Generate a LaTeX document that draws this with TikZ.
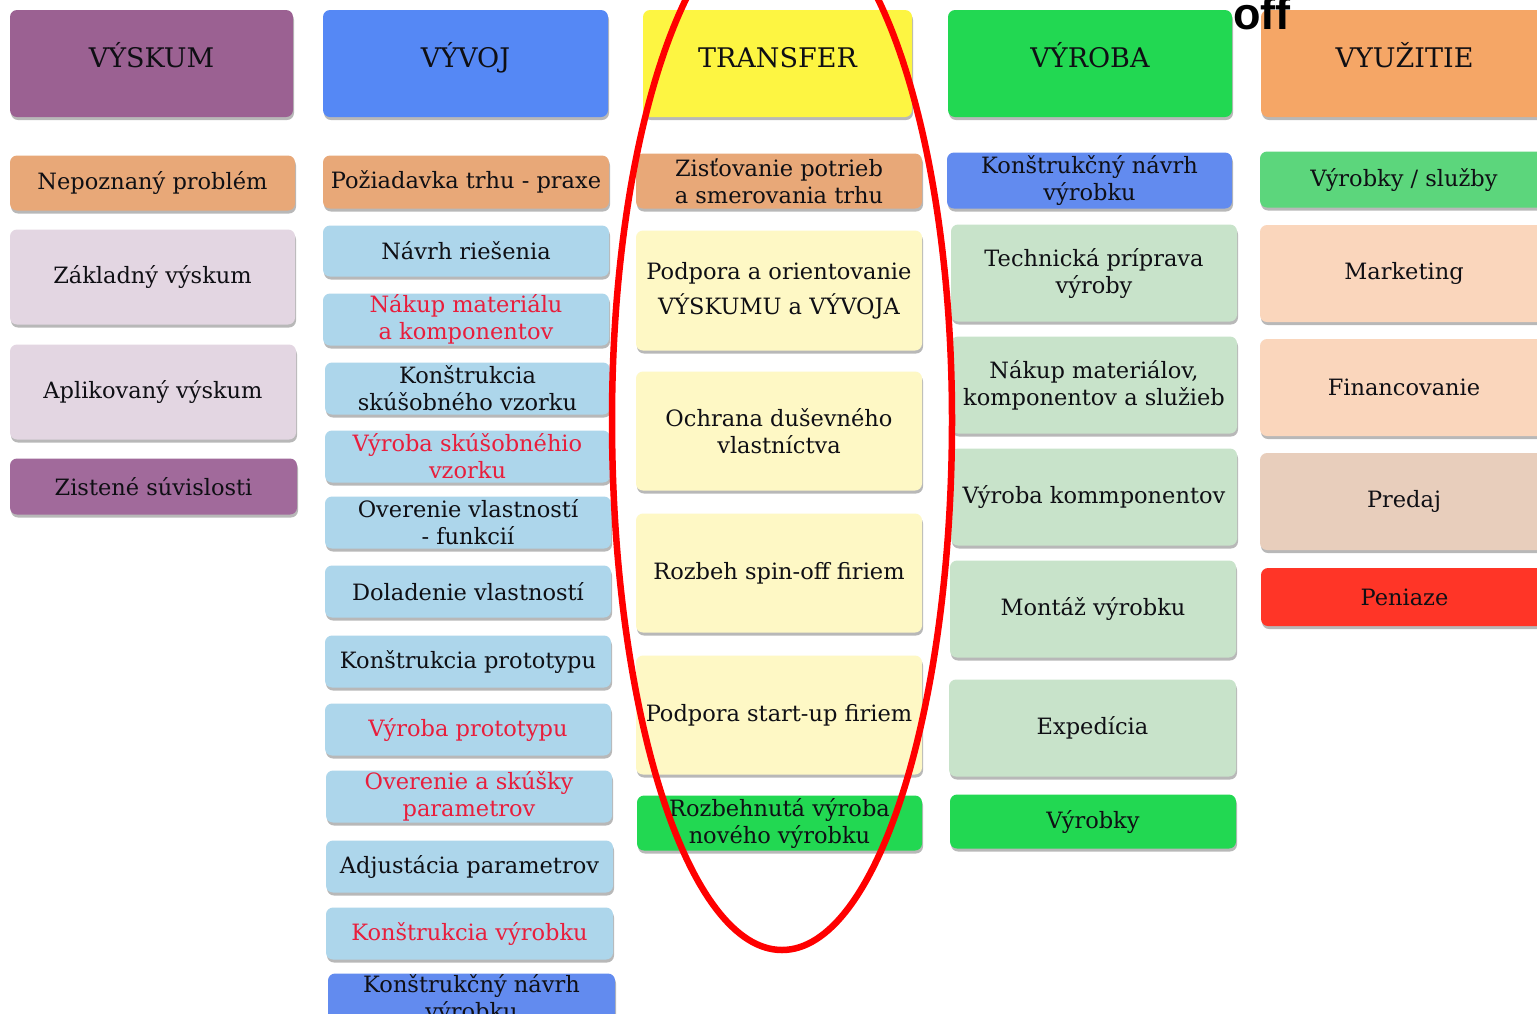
\documentclass[tikz,border=0pt]{standalone}
\usepackage{fontspec}
\setmainfont{DejaVu Serif}
\newfontfamily\offfont{Liberation Sans}
\usetikzlibrary{shadows}
\definecolor{cPurpleH}{RGB}{155,97,146}
\definecolor{cBlueH}{RGB}{85,136,245}
\definecolor{cYellowH}{RGB}{253,245,66}
\definecolor{cGreenH}{RGB}{34,216,82}
\definecolor{cOrangeH}{RGB}{245,166,102}
\definecolor{cOrange}{RGB}{232,168,120}
\definecolor{cLPurple}{RGB}{227,214,226}
\definecolor{cDPurple}{RGB}{161,106,155}
\definecolor{cLBlue}{RGB}{173,214,235}
\definecolor{cBlue}{RGB}{98,139,239}
\definecolor{cLYellow}{RGB}{254,248,197}
\definecolor{cLGreen}{RGB}{200,227,202}
\definecolor{cGreen2}{RGB}{92,214,124}
\definecolor{cPeach}{RGB}{250,214,188}
\definecolor{cPredaj}{RGB}{232,206,188}
\definecolor{cRed}{RGB}{255,53,39}
\definecolor{cRedText}{RGB}{232,30,60}
\definecolor{cTxt}{RGB}{15,15,20}
\begin{document}
\begin{tikzpicture}[x=1pt,y=-1pt,
  bx/.style={rectangle, rounded corners=7pt, inner sep=0pt, align=center,
    font=\fontsize{22.5}{27}\selectfont, text=cTxt,
    drop shadow={shadow xshift=1pt, shadow yshift=-3pt, opacity=0.28, fill=black}},
  hd/.style={bx, font=\fontsize{27}{32}\selectfont, minimum height=107pt,
    text height=20pt, text depth=12pt},
  wh/.style 2 args={minimum width=#1pt, minimum height=#2pt},
  rt/.style={text=cRedText}]
\clip (0,0) rectangle (1537,1013);
\fill[white] (0,0) rectangle (1537,1013);

% column 1
\node[hd, fill=cPurpleH, minimum width=283pt] (h1) at (151.5,63.5) {VÝSKUM};
\node[bx, fill=cOrange, wh={285}{55}] (a1) at (152.5,183) {Nepoznaný problém};
\node[bx, fill=cLPurple, wh={285}{95}] (a2) at (152.5,277) {Základný výskum};
\node[bx, fill=cLPurple, wh={286}{95}] (a3) at (153,392) {Aplikovaný výskum};
\node[bx, fill=cDPurple, wh={287}{56}] (a4) at (153.5,486.5) {Zistené súvislosti};

% column 2
\node[hd, fill=cBlueH, minimum width=285pt] (h2) at (465.5,63.5) {VÝVOJ};
\node[bx, fill=cOrange, wh={286}{53}] (b1) at (466,182) {Požiadavka trhu - praxe};
\node[bx, fill=cLBlue, wh={286}{51}] (b2) at (466,251) {Návrh riešenia};
\node[bx, rt, fill=cLBlue, wh={286}{52}] (b3) at (466,319.5) {Nákup materiálu\\a komponentov};
\node[bx, fill=cLBlue, wh={285}{52}] (b4) at (467.5,388.5) {Konštrukcia\\skúšobného vzorku};
\node[bx, rt, fill=cLBlue, wh={285}{52}] (b5) at (467.5,456.5) {Výroba skúšobnéhio\\vzorku};
\node[bx, fill=cLBlue, wh={286}{52}] (b6) at (468,522.5) {Overenie vlastností\\- funkcií};
\node[bx, fill=cLBlue, wh={286}{52}] (b7) at (468,591.5) {Doladenie vlastností};
\node[bx, fill=cLBlue, wh={286}{52}] (b8) at (468,661.5) {Konštrukcia prototypu};
\node[bx, rt, fill=cLBlue, wh={286}{52}] (b9) at (468,729.5) {Výroba prototypu};
\node[bx, rt, fill=cLBlue, wh={286}{52}] (b10) at (469,796.5) {Overenie a skúšky\\parametrov};
\node[bx, fill=cLBlue, wh={287}{52}] (b11) at (469.5,866.5) {Adjustácia parametrov};
\node[bx, rt, fill=cLBlue, wh={287}{52}] (b12) at (469.5,933.5) {Konštrukcia výrobku};
\node[bx, fill=cBlue, wh={287}{52}] (b13) at (471.5,999.5) {Konštrukčný návrh\\výrobku};

% column 3
\node[hd, fill=cYellowH, minimum width=269pt] (h3) at (777.5,63.5) {TRANSFER};
\node[bx, fill=cOrange, wh={286}{55}] (c1) at (779,181) {Zisťovanie potrieb\\a smerovania trhu};
\node[bx, fill=cLYellow, wh={286}{120}] (c2) at (779,290.5) {Podpora a orientovanie\\[8pt]VÝSKUMU a VÝVOJA};
\node[bx, fill=cLYellow, wh={286}{119}] (c3) at (779,431) {Ochrana duševného\\vlastníctva};
\node[bx, fill=cLYellow, wh={286}{119}] (c4) at (779,573) {Rozbeh spin-off firiem};
\node[bx, fill=cLYellow, wh={286}{119}] (c5) at (779,715) {Podpora start-up firiem};
\node[bx, fill=cGreenH, wh={285}{55}] (c6) at (779.5,823) {Rozbehnutá výroba\\nového výrobku};

% column 4
\node[hd, fill=cGreenH, minimum width=284pt] (h4) at (1090,63.5) {VÝROBA};
\node[bx, fill=cBlue, wh={285}{56}] (d1) at (1089.5,180.5) {Konštrukčný návrh\\výrobku};
\node[bx, fill=cLGreen, wh={286}{97}] (d2) at (1094,273) {Technická príprava\\výroby};
\node[bx, fill=cLGreen, wh={286}{97}] (d3) at (1094,385) {Nákup materiálov,\\komponentov a služieb};
\node[bx, fill=cLGreen, wh={286}{97}] (d4) at (1094,497) {Výroba kommponentov};
\node[bx, fill=cLGreen, wh={286}{97}] (d5) at (1093,609) {Montáž výrobku};
\node[bx, fill=cLGreen, wh={287}{97}] (d6) at (1092.5,728) {Expedícia};
\node[bx, fill=cGreenH, wh={286}{54}] (d7) at (1093,821.5) {Výrobky};

% column 5
\node[hd, fill=cOrangeH, minimum width=287pt] (h5) at (1404.5,63.5) {VYUŽITIE};
\node[bx, fill=cGreen2, wh={288}{56}] (e1) at (1404,179.5) {Výrobky / služby};
\node[bx, fill=cPeach, wh={288}{97}] (e2) at (1404,273.5) {Marketing};
\node[bx, fill=cPeach, wh={288}{97}] (e3) at (1404,387.5) {Financovanie};
\node[bx, fill=cPredaj, wh={288}{97}] (e4) at (1404,501.5) {Predaj};
\node[bx, fill=cRed, wh={287}{58}] (e5) at (1404.5,597) {Peniaze};

% red ellipse
\draw[red, line width=6.5pt]
  (612,420) .. controls (612,138.3) and (688.1,-90) .. (782,-90)
  .. controls (875.9,-90) and (952,138.3) .. (952,420)
  .. controls (952,712.7) and (875.9,950) .. (782,950)
  .. controls (688.1,950) and (612,712.7) .. (612,420) -- cycle;

% "off"
\node[font=\offfont\bfseries\fontsize{45}{45}\selectfont, anchor=base, inner sep=0pt] (off) at (1262,29) {off};
\end{tikzpicture}
\end{document}
